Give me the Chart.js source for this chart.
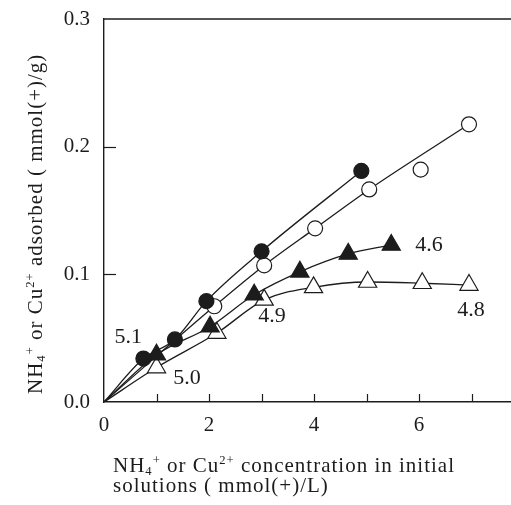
<!DOCTYPE html>
<html>
<head>
<meta charset="utf-8">
<script src="https://cdn.jsdelivr.net/npm/chart.js@4/dist/chart.umd.min.js"></script>
<style>
    html, body { margin: 0; padding: 0; background: #fff; }
    #wrap { width: 511px; height: 505px; position: relative; }
</style>
</head>
<body>
<div id="wrap"><canvas id="adsChart"></canvas></div>
<script>
// data (x: mmol(+)/L, y: mmol(+)/g)
const concFilledCircle = [0, 0.75, 1.35, 1.95, 3.0, 4.9];
const adsFilledCircle  = [0, 0.034, 0.049, 0.079, 0.118, 0.181];

const concOpenCircle = [0, 2.1, 3.05, 4.02, 5.05, 6.95];
const adsOpenCircle  = [0, 0.075, 0.107, 0.136, 0.1665, 0.2175];
const concOpenCircleOff = [6.03];   // point lying off the fitted curve
const adsOpenCircleOff  = [0.182];

const concFilledTri = [0, 1.0, 2.02, 2.86, 3.73, 4.65, 5.47];
const adsFilledTri  = [0, 0.037, 0.059, 0.084, 0.102, 0.116, 0.123];

const concOpenTri = [0, 1.0, 2.15, 3.05, 3.99, 5.02, 6.06, 6.95];
const adsOpenTri  = [0, 0.027, 0.054, 0.080, 0.0898, 0.094, 0.093, 0.0916];

// pH labels next to the curves
const phText = ['5.1', '5.0', '4.9', '4.6', '4.8'];
const phX = [0.46, 1.58, 3.2, 6.19, 6.99];
const phY = [0.051, 0.019, 0.067, 0.123, 0.072];

const xTickLabels = [0, 2, 4, 6];

const INK = '#1c1c1c';
const SERIF = "'Liberation Serif', 'DejaVu Serif', serif";

function pts(xs, ys) {
    return xs.map((x, i) => ({ x: x, y: ys[i] }));
}
const hideOrigin = r => (c => (c.raw && c.raw.x === 0 ? 0 : r));

function series(xs, ys, style, filled, r) {
    return {
        data: pts(xs, ys),
        borderColor: INK,
        borderWidth: 1.3,
        pointStyle: style,
        pointRadius: hideOrigin(r),
        pointHoverRadius: hideOrigin(r),
        pointBackgroundColor: filled ? INK : '#fff',
        pointBorderColor: INK,
        pointBorderWidth: 1.2,
        cubicInterpolationMode: 'monotone',
        fill: false
    };
}

// draw text with sub/superscripts: parts = [[text, 'n'|'sub'|'sup'], ...]
function richText(ctx, parts, x, y, size) {
    let cx = x;
    parts.forEach(([t, kind]) => {
        const s = kind === 'n' ? size : size * 0.6;
        const dy = kind === 'sup' ? -size * 0.38 : (kind === 'sub' ? size * 0.15 : 0);
        ctx.font = s + 'px ' + SERIF;
        ctx.fillText(t, cx, y + dy);
        cx += ctx.measureText(t).width;
    });
}

const extras = {
    id: 'extras',
    afterDraw(chart) {
        const { ctx, chartArea: a, scales } = chart;
        const xs = scales.x, ys = scales.y;
        ctx.save();
        ctx.strokeStyle = INK;
        ctx.lineWidth = 1.4;
        // top frame line
        ctx.beginPath();
        ctx.moveTo(a.left, a.top);
        ctx.lineTo(chart.width, a.top);
        ctx.stroke();
        // inward ticks
        ctx.lineWidth = 1.2;
        for (let v = 1; v <= 7; v++) {
            const px = Math.round(xs.getPixelForValue(v)) + 0.5;
            ctx.beginPath();
            ctx.moveTo(px, a.bottom);
            ctx.lineTo(px, a.bottom - 8);
            ctx.stroke();
        }
        [0.1, 0.2].forEach(v => {
            const py = Math.round(ys.getPixelForValue(v)) + 0.5;
            ctx.beginPath();
            ctx.moveTo(a.left, py);
            ctx.lineTo(a.left + 12, py);
            ctx.stroke();
        });
        // pH labels
        ctx.fillStyle = INK;
        ctx.font = '22px ' + SERIF;
        ctx.textAlign = 'center';
        ctx.textBaseline = 'middle';
        phText.forEach((t, i) => {
            ctx.fillText(t, xs.getPixelForValue(phX[i]), ys.getPixelForValue(phY[i]));
        });
        // axis titles
        ctx.textAlign = 'left';
        ctx.textBaseline = 'alphabetic';
        ctx.letterSpacing = '1px';
        richText(ctx, [['NH', 'n'], ['4', 'sub'], ['+', 'sup'], [' or Cu', 'n'], ['2+', 'sup'],
            [' concentration in initial', 'n']], 113, 472, 21);
        richText(ctx, [['solutions ( mmol(+)/L)', 'n']], 113, 492, 21);

        ctx.translate(42, 394);
        ctx.rotate(-Math.PI / 2);
        richText(ctx, [['NH', 'n'], ['4', 'sub'], ['+', 'sup'], [' or Cu', 'n'], ['2+', 'sup'],
            [' adsorbed ( mmol(+)/g)', 'n']], 0, 0, 21);
        ctx.restore();
    }
};

new Chart(document.getElementById('adsChart'), {
    type: 'line',
    data: {
        datasets: [
            series(concFilledCircle, adsFilledCircle, 'circle', true, 7.5),
            series(concFilledTri, adsFilledTri, 'triangle', true, 10.5),
            series(concOpenCircle, adsOpenCircle, 'circle', false, 7.5),
            Object.assign(series(concOpenCircleOff, adsOpenCircleOff, 'circle', false, 7.5), { showLine: false }),
            series(concOpenTri, adsOpenTri, 'triangle', false, 10.5)
        ]
    },
    options: {
        responsive: true,
        maintainAspectRatio: false,
        animation: false,
        layout: { autoPadding: false, padding: { top: 19, right: 0, left: 0, bottom: 0 } },
        plugins: {
            legend: { display: false },
            tooltip: { enabled: false }
        },
        scales: {
            x: {
                type: 'linear',
                min: 0,
                max: 7.75,
                grid: { display: false },
                border: { display: true, color: INK, width: 1.4 },
                afterFit: s => { s.height = 103; s.paddingLeft = 0; s.paddingRight = 0; },
                ticks: {
                    stepSize: 1,
                    includeBounds: false,
                    autoSkip: false,
                    maxRotation: 0,
                    padding: 3,
                    color: INK,
                    font: { family: SERIF, size: 21 },
                    callback: v => (xTickLabels.includes(v) ? String(v) : '')
                }
            },
            y: {
                type: 'linear',
                min: 0,
                max: 0.3,
                grid: { display: false },
                border: { display: true, color: INK, width: 1.4 },
                afterFit: s => { s.width = 104; s.paddingTop = 0; s.paddingBottom = 0; },
                ticks: {
                    stepSize: 0.1,
                    padding: 6,
                    color: INK,
                    font: { family: SERIF, size: 21 },
                    callback: v => v.toFixed(1)
                }
            }
        }
    },
    plugins: [extras]
});
</script>
</body>
</html>
